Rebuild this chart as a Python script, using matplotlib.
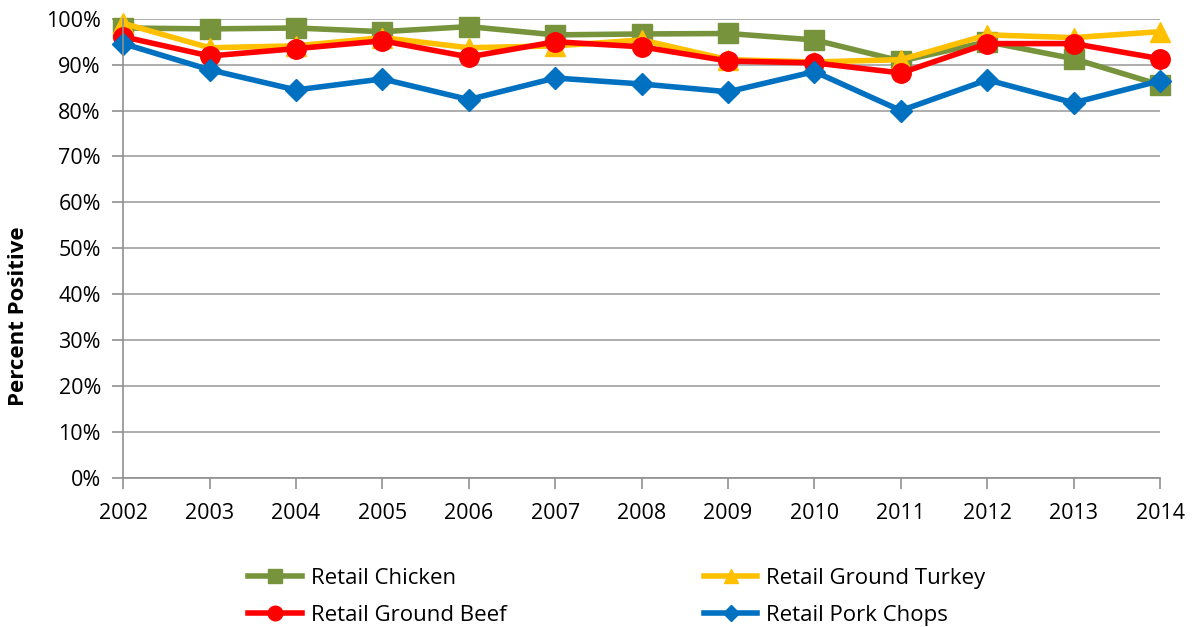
import matplotlib.pyplot as plt
import numpy as np
from matplotlib.ticker import PercentFormatter

plt.rcParams['font.family'] = ['Open Sans', 'DejaVu Sans']

years = [2002, 2003, 2004, 2005, 2006, 2007, 2008, 2009, 2010, 2011, 2012, 2013, 2014]
chicken = [98.0, 97.8, 98.0, 97.2, 98.3, 96.5, 96.7, 96.8, 95.4, 90.8, 95.0, 91.3, 85.6]
turkey = [99.0, 93.7, 94.1, 95.9, 93.7, 94.1, 95.4, 91.1, 90.6, 91.1, 96.5, 95.9, 97.2]
beef = [96.1, 91.9, 93.5, 95.2, 91.7, 95.0, 93.9, 90.8, 90.4, 88.2, 94.6, 94.6, 91.3]
pork = [94.6, 88.9, 84.5, 86.9, 82.4, 87.1, 85.8, 84.1, 88.5, 80.0, 86.7, 81.7, 86.5]

series = [
    ("Retail Chicken", chicken, "#77933C", "s"),
    ("Retail Ground Turkey", turkey, "#FFC000", "^"),
    ("Retail Ground Beef", beef, "#FF0000", "o"),
    ("Retail Pork Chops", pork, "#0070C0", "D"),
]

fig = plt.figure(figsize=(11.96, 6.27), dpi=100)
ax = fig.add_axes([0.103, 0.238, 0.867, 0.732])

for name, vals, col, mk in series:
    ms = 11 if mk == "D" else 14
    ax.plot(years, vals, color=col, lw=4, marker=mk, markersize=ms, label=name,
            clip_on=False)

ax.set_xlim(2002, 2014)
ax.set_ylim(0, 100)
ax.set_xticks(years)
ax.set_yticks(np.arange(0, 101, 10))
ax.yaxis.set_major_formatter(PercentFormatter(decimals=0))
ax.grid(axis='y', color='#A0A0A0', lw=1.2)
ax.set_axisbelow(True)
for s in ['top', 'right']:
    ax.spines[s].set_visible(False)
for s in ['left', 'bottom']:
    ax.spines[s].set_color('#909090')
    ax.spines[s].set_linewidth(1.2)
ax.tick_params(axis='both', labelsize=15.5, color='#909090', length=8, width=1.2)
ax.tick_params(axis='x', pad=10)
ax.tick_params(axis='y', pad=8)
ax.set_ylabel("Percent Positive", fontsize=16, fontweight='bold',
              va='center', ha='center')
ax.yaxis.set_label_coords(-0.101, 0.353)

# legend order: chicken, turkey / beef, pork (row-wise)
h, l = ax.get_legend_handles_labels()
order = [0, 2, 1, 3]
fig.legend([h[i] for i in order], [l[i] for i in order], ncol=2, frameon=False,
           loc='lower left', bbox_to_anchor=(0.191, -0.03), fontsize=16,
           handlelength=2.4, handletextpad=0.4, columnspacing=8.9,
           labelspacing=0.7, markerscale=0.75)

fig.savefig("out.png", dpi=100)
